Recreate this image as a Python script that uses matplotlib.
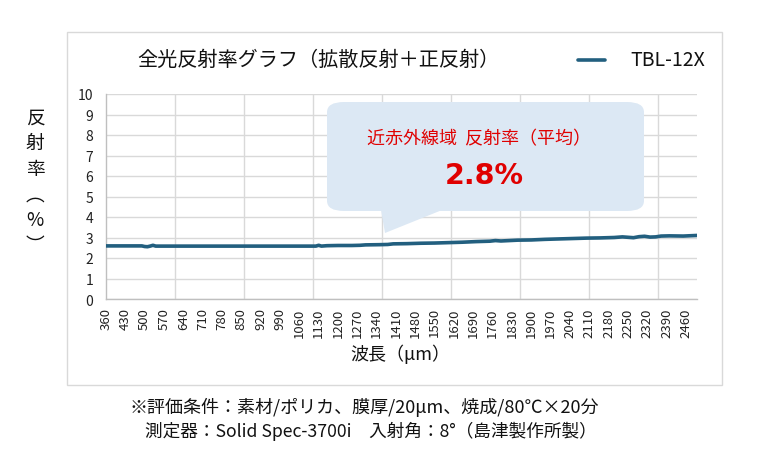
import matplotlib
matplotlib.use("Agg")
import matplotlib.pyplot as plt
from matplotlib.patches import FancyBboxPatch, Polygon, Rectangle
from matplotlib.lines import Line2D

plt.rcParams['font.family'] = ['Noto Sans CJK JP', 'DejaVu Sans']

# 波長(nm) と 全光反射率(%)
wavelength = [360, 400, 450, 490, 500, 510, 520, 530, 540, 600, 700, 800, 900, 1000,
              1100, 1120, 1130, 1140, 1160, 1200, 1250, 1280, 1300, 1350, 1380, 1400,
              1450, 1500, 1550, 1600, 1650, 1700, 1750, 1770, 1790, 1850, 1900, 1950,
              2000, 2050, 2100, 2150, 2200, 2230, 2250, 2270, 2290, 2310, 2330, 2350,
              2370, 2400, 2450, 2500]
reflectance = [2.59, 2.59, 2.59, 2.59, 2.56, 2.55, 2.58, 2.62, 2.58, 2.58, 2.58, 2.58, 2.58, 2.58,
               2.58, 2.58, 2.62, 2.58, 2.60, 2.61, 2.61, 2.62, 2.64, 2.65, 2.66, 2.69,
               2.70, 2.72, 2.73, 2.75, 2.77, 2.80, 2.82, 2.85, 2.83, 2.87, 2.88, 2.91,
               2.93, 2.95, 2.97, 2.98, 3.00, 3.03, 3.01, 2.99, 3.04, 3.06, 3.02, 3.03,
               3.07, 3.08, 3.07, 3.10]
xticks = list(range(360, 2461, 70))
xgrid = [610, 860, 1110, 1360, 1610, 1860, 2110, 2360]
yticks = list(range(0, 11))
series_name = "TBL-12X"
title = "全光反射率グラフ（拡散反射＋正反射）"
avg_label = "近赤外線域  反射率（平均）"
avg_value = "2.8%"

W, H = 776, 464
fig = plt.figure(figsize=(W / 100, H / 100), dpi=100)

def fx(px):
    return px / W

def fy(py):
    return 1 - py / H

# 外枠
fig.patches.append(Rectangle((fx(67), fy(386)), fx(722) - fx(67), fy(33) - fy(386),
                             transform=fig.transFigure, fill=False,
                             edgecolor='#d9d9d9', linewidth=1.0))

ax = fig.add_axes([fx(106), fy(300), fx(697) - fx(106), fy(95) - fy(300)])
ax.plot(wavelength, reflectance, color='#225f7f', linewidth=2.6, solid_capstyle='round',
        label=series_name, zorder=3)
ax.set_xlim(360, 2500)
ax.set_ylim(0, 10)
ax.set_xticks(xticks)
ax.set_xticklabels([str(v) for v in xticks], rotation=90, fontsize=9.5)
ax.set_yticks(yticks)
ax.set_yticklabels([str(v) for v in yticks], fontsize=10)
ax.tick_params(axis='both', length=0, colors='#222222')
ax.tick_params(axis='x', pad=6)
ax.tick_params(axis='y', pad=9)
ax.grid(axis='y', color='#d9d9d9', linewidth=1.0)
for g in xgrid:
    ax.axvline(g, color='#d9d9d9', linewidth=1.0, zorder=0)
ax.set_axisbelow(True)
for s in ['top', 'right']:
    ax.spines[s].set_visible(False)
for s in ['left', 'bottom']:
    ax.spines[s].set_color('#bfbfbf')
    ax.spines[s].set_linewidth(1.0)

# タイトル・凡例
fig.text(fx(318), fy(60), title, ha='center', va='center', fontsize=14.5, color='#111111')
fig.lines.append(Line2D([fx(578), fx(605)], [fy(61), fy(61)], transform=fig.transFigure,
                        color='#225f7f', linewidth=2.6, solid_capstyle='round'))
fig.text(fx(630), fy(61), series_name, ha='left', va='center', fontsize=14, color='#111111')

# 軸ラベル
fig.text(fx(35), fy(182), "反\n射\n率\n︵\n%\n︶", ha='center', va='center', fontsize=13.5,
         linespacing=1.28, color='#111111')
fig.text(fx(400), fy(354), "波長（μm）", ha='center', va='center', fontsize=13, color='#111111')

# 吹き出し
box = FancyBboxPatch((fx(327), fy(212)), fx(644) - fx(327), fy(103) - fy(212),
                     boxstyle="round,pad=0,rounding_size=0.022", transform=fig.transFigure,
                     facecolor='#dce8f4', edgecolor='none', zorder=5)
ax.add_patch(box)
box.set_clip_on(False)
tip = Polygon([(fx(380), fy(205)), (fx(385), fy(234)), (fx(457), fy(205))], closed=True,
              transform=fig.transFigure, facecolor='#dce8f4', edgecolor='none', zorder=5)
ax.add_patch(tip)
tip.set_clip_on(False)
fig.text(fx(479), fy(139), avg_label, ha='center', va='center', fontsize=13, color='#e00000',
         zorder=6)
fig.text(fx(484), fy(176), avg_value, ha='center', va='center', fontsize=20.5, fontweight='bold',
         color='#e00000', family=['DejaVu Sans'], zorder=6)

# 評価条件
fig.text(fx(130), fy(407), "※評価条件：素材/ポリカ、膜厚/20μm、焼成/80℃×20分", ha='left',
         va='center', fontsize=13, color='#111111')
fig.text(fx(145), fy(431), "測定器：Solid Spec-3700i　入射角：8°（島津製作所製）", ha='left',
         va='center', fontsize=12.7, color='#111111')

fig.savefig("out.png", dpi=100)
